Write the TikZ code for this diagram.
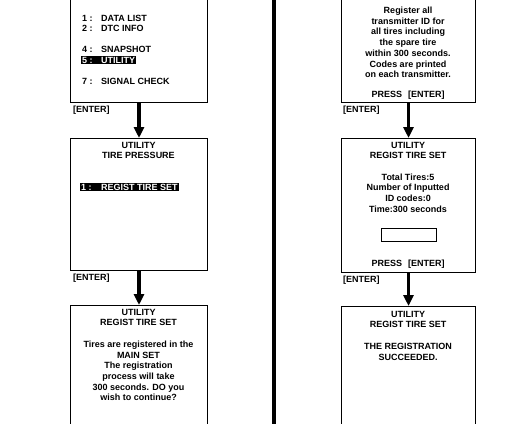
\documentclass[tikz,border=0pt]{standalone}
\usepackage{fontspec}
\setmainfont{Liberation Sans}
\usetikzlibrary{arrows.meta}
\begin{document}
\begin{tikzpicture}[x=1pt,y=-1pt,
  scr/.style={draw, line width=1pt, inner sep=0pt, anchor=north west},
  txt/.style={font=\bfseries\fontsize{9}{10.7}\selectfont, align=center, inner sep=0pt},
  hl/.style={txt, fill=black, text=white, inner sep=1pt},
  flow/.style={line width=3.5pt, -{Triangle[width=10pt,length=11pt]}},
]
\useasboundingbox (0,0) rectangle (518,423);
% divider
\draw[line width=4pt] (274,-5) -- (274,430);
% boxes
\node[scr, minimum width=137pt, minimum height=108pt] (L1) at (70,-6) {};
\node[scr, minimum width=137pt, minimum height=132pt] (L2) at (70,138) {};
\node[scr, minimum width=137pt, minimum height=130pt] (L3) at (70,305) {};
\node[scr, minimum width=134pt, minimum height=108pt] (R1) at (341,-6) {};
\node[scr, minimum width=134pt, minimum height=134pt] (R2) at (341,138) {};
\node[scr, minimum width=134pt, minimum height=130pt] (R3) at (341,306) {};
% arrows
\draw[flow] (L1.south) -- (L2.north);
\draw[flow] (L2.south) -- (L3.north);
\draw[flow] (R1.south) -- (R2.north);
\draw[flow] (R2.south) -- (R3.north);
% enter labels
\node[txt, anchor=west] (e1) at (73,110) {[ENTER]};
\node[txt, anchor=west] (e2) at (73,278) {[ENTER]};
\node[txt, anchor=west] (e3) at (343,110) {[ENTER]};
\node[txt, anchor=west] (e4) at (343,280) {[ENTER]};
% left box 1 menu
\node[txt, anchor=west] (m1) at (82,18) {\makebox[19pt][l]{1 :}DATA LIST};
\node[txt, anchor=west] (m2) at (82,28) {\makebox[19pt][l]{2 :}DTC INFO};
\node[txt, anchor=west] (m4) at (82,49) {\makebox[19pt][l]{4 :}SNAPSHOT};
\node[hl, anchor=west] (m5) at (81,60) {\makebox[19pt][l]{5 :}UTILITY};
\node[txt, anchor=west] (m7) at (82,81) {\makebox[19pt][l]{7 :}SIGNAL CHECK};
% left box 2
\node[txt, anchor=north] (t2) at (138.5,141.8) {UTILITY\\TIRE PRESSURE};
\node[hl, anchor=west] (r1) at (80,187) {\makebox[20pt][l]{1 :}REGIST TIRE SET};
% left box 3
\node[txt, anchor=north] (t3) at (138.5,308.8) {UTILITY\\REGIST TIRE SET\\[10.7pt]Tires are registered in the\\MAIN SET\\The registration\\process will take\\300 seconds. DO you\\wish to continue?};
% right box 1
\node[txt, anchor=north] (t4) at (408,6.8) {Register all\\transmitter ID for\\all tires including\\the spare tire\\within 300 seconds.\\Codes are printed\\on each transmitter.};
\node[txt] (p1) at (408,95) {PRESS\hspace{6pt}[ENTER]};
% right box 2
\node[txt, anchor=north] (t5) at (408,141.8) {UTILITY\\REGIST TIRE SET\\[10.7pt]Total Tires:5\\Number of Inputted\\ID codes:0\\Time:300 seconds};
\node[draw, line width=0.8pt, minimum width=55pt, minimum height=13pt, inner sep=0pt, anchor=north west] (inbox) at (381,228) {};
\node[txt] (p2) at (408,264) {PRESS\hspace{6pt}[ENTER]};
% right box 3
\node[txt, anchor=north] (t6) at (408,310.8) {UTILITY\\REGIST TIRE SET\\[10.7pt]THE REGISTRATION\\SUCCEEDED.};
\end{tikzpicture}
\end{document}
